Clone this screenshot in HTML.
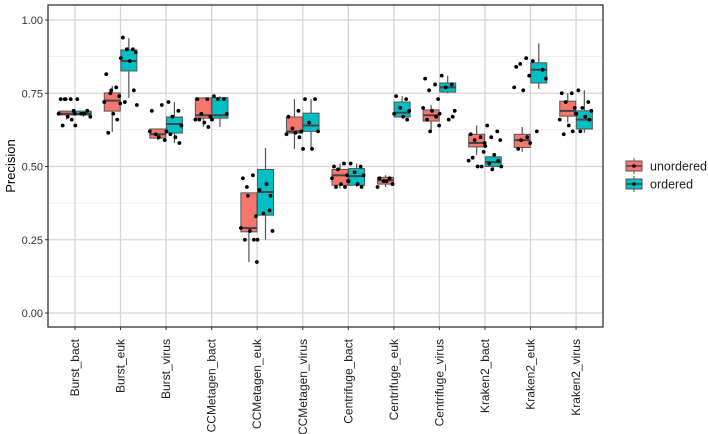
<!DOCTYPE html>
<html><head><meta charset="utf-8"><style>
html,body{margin:0;padding:0;background:#fff;}
svg{display:block;font-family:"Liberation Sans",Arial,sans-serif;}
</style></head><body>
<svg id="chart" width="708" height="434" viewBox="0 0 708 434"></svg>
<script>
const categories=["Burst_bact","Burst_euk","Burst_virus","CCMetagen_bact","CCMetagen_euk","CCMetagen_virus","Centrifuge_bact","Centrifuge_euk","Centrifuge_virus","Kraken2_bact","Kraken2_euk","Kraken2_virus"];
const seriesNames=["unordered","ordered"];
const seriesColors=["#F8766D","#00BFC4"];
// [whiskerLow, q1, median, q3, whiskerHigh]
const unorderedStats=[[0.66,0.676,0.68,0.689,0.69],[0.618,0.689,0.725,0.751,0.775],[0.59,0.597,0.61,0.628,0.63],[0.635,0.665,0.675,0.734,0.735],[0.174,0.277,0.29,0.41,0.41],[0.56,0.614,0.62,0.669,0.73],[0.425,0.436,0.47,0.49,0.51],[0.43,0.44,0.453,0.463,0.47],[0.62,0.655,0.675,0.693,0.71],[0.54,0.567,0.58,0.61,0.64],[0.55,0.565,0.59,0.61,0.635],[0.65,0.672,0.69,0.723,0.75]];
const orderedStats=[[0.67,0.676,0.68,0.689,0.69],[0.734,0.826,0.86,0.898,0.938],[0.58,0.614,0.645,0.669,0.72],[0.635,0.665,0.675,0.735,0.74],[0.25,0.334,0.413,0.49,0.563],[0.56,0.62,0.64,0.682,0.73],[0.43,0.436,0.467,0.493,0.51],[0.665,0.669,0.684,0.72,0.74],[0.75,0.754,0.77,0.785,0.81],[0.49,0.5,0.515,0.533,0.54],[0.765,0.785,0.83,0.854,0.92],[0.615,0.628,0.66,0.69,0.76]];
const unorderedPoints=[[0.73,0.73,0.73,0.69,0.68,0.67,0.66,0.64,0.68,0.73],[0.815,0.77,0.75,0.74,0.72,0.68,0.66,0.615,0.715,0.76],[0.69,0.71,0.61,0.59,0.62,0.6],[0.73,0.73,0.68,0.67,0.66,0.65,0.635,0.66],[0.46,0.47,0.43,0.33,0.29,0.28,0.25,0.25,0.174,0.4],[0.67,0.69,0.63,0.62,0.61,0.615,0.6],[0.5,0.51,0.49,0.47,0.46,0.44,0.43,0.43,0.45],[0.46,0.46,0.45,0.44,0.43,0.45],[0.8,0.78,0.76,0.73,0.7,0.69,0.67,0.66,0.64,0.62],[0.61,0.6,0.59,0.55,0.52,0.5,0.5,0.53,0.58],[0.84,0.87,0.85,0.81,0.77,0.76,0.6,0.56,0.58,0.59],[0.75,0.75,0.72,0.7,0.66,0.64,0.62,0.61,0.68]];
const orderedPoints=[[0.73,0.69,0.68,0.67,0.64,0.68],[0.94,0.9,0.9,0.89,0.87,0.86,0.76,0.72,0.71],[0.72,0.69,0.67,0.64,0.62,0.6,0.58,0.61],[0.74,0.73,0.73,0.68,0.66],[0.42,0.35,0.34,0.28,0.25,0.44,0.4],[0.73,0.73,0.65,0.62,0.56,0.56],[0.51,0.5,0.48,0.47,0.45,0.44,0.43],[0.74,0.73,0.7,0.69,0.68,0.67,0.66],[0.81,0.78,0.77,0.69,0.68,0.66,0.67],[0.64,0.62,0.6,0.59,0.57,0.54,0.52,0.51,0.5,0.49],[0.86,0.83,0.62,0.8],[0.76,0.72,0.7,0.69,0.68,0.67,0.66,0.62]];
const yTicks=[0,0.25,0.5,0.75,1];
const yTickLabels=["0.00","0.25","0.50","0.75","1.00"];

const NS="http://www.w3.org/2000/svg";
const svg=document.getElementById('chart');
const P={l:48,r:603,t:5,b:327};
const x0=75,xStep=45.55,dodge=8.3,boxW=16;
function xScale(i){return x0+i*xStep;}
function yScale(v){return 313-v*293;}
function mk(tag,attrs,parent){const e=document.createElementNS(NS,tag);for(const k in attrs)e.setAttribute(k,attrs[k]);(parent||svg).appendChild(e);return e;}

// panel
const panel=mk('rect',{x:P.l,y:P.t,width:P.r-P.l,height:P.b-P.t,fill:'#fff'});


const grid=mk('g',{});


for(let i=0;i<yTicks.length-1;i++){const v=(yTicks[i]+yTicks[i+1])/2;mk('line',{x1:P.l,x2:P.r,y1:yScale(v),y2:yScale(v),stroke:'#ebebeb','stroke-width':0.8},grid);}
yTicks.forEach(v=>mk('line',{x1:P.l,x2:P.r,y1:yScale(v),y2:yScale(v),stroke:'#d6d6d6','stroke-width':1.3},grid));
categories.forEach((c,i)=>mk('line',{x1:xScale(i),x2:xScale(i),y1:P.t,y2:P.b,stroke:'#d6d6d6','stroke-width':1.3},grid));

// boxes
const allStats=[unorderedStats,orderedStats];
const allPts=[unorderedPoints,orderedPoints];
const jitter=[-6,4,-2,7,-8,1,5,-4,8,-1];
categories.forEach((c,i)=>{
  for(let s=0;s<2;s++){
    const st=allStats[s][i];
    const cx=xScale(i)+(s===0?-dodge:dodge);
    const g=mk('g',{});
    
    
    mk('line',{x1:cx,x2:cx,y1:yScale(st[0]),y2:yScale(st[4]),stroke:'#555','stroke-width':1.2},g);
    mk('rect',{x:cx-boxW/2,y:yScale(st[3]),width:boxW,height:Math.max(1,yScale(st[1])-yScale(st[3])),fill:seriesColors[s],stroke:'#555','stroke-width':1},g);
    mk('line',{x1:cx-boxW/2,x2:cx+boxW/2,y1:yScale(st[2]),y2:yScale(st[2]),stroke:'#444','stroke-width':2},g);
  }
});
categories.forEach((c,i)=>{
  for(let s=0;s<2;s++){
    const cx=xScale(i)+(s===0?-dodge:dodge);
    allPts[s][i].forEach((v,k)=>{
      const p=mk('circle',{cx:cx+jitter[k%jitter.length],cy:yScale(v),r:1.9,fill:'#000'});
      
      
    });
  }
});
const border=mk('rect',{x:P.l,y:P.t,width:P.r-P.l,height:P.b-P.t,fill:'none',stroke:'#333','stroke-width':1.3});



// y axis
yTicks.forEach((v,i)=>{
  mk('line',{x1:P.l-3,x2:P.l,y1:yScale(v),y2:yScale(v),stroke:'#333'});
  const t=mk('text',{x:P.l-5,y:yScale(v)+4,'text-anchor':'end','font-size':11,fill:'#333'});
  t.textContent=yTickLabels[i];
  
  
});
const yt=mk('text',{transform:'translate(15,166) rotate(-90)','text-anchor':'middle','font-size':13,fill:'#000'});
yt.textContent='Precision';



// x axis
categories.forEach((c,i)=>{
  mk('line',{x1:xScale(i),x2:xScale(i),y1:P.b,y2:P.b+3,stroke:'#333'});
  const t=mk('text',{transform:`translate(${xScale(i)+4},339) rotate(-90)`,'text-anchor':'end','font-size':12,fill:'#222'});
  t.textContent=c;
  
  
});

// legend
const lg=mk('g',{});


seriesNames.forEach((n,s)=>{
  const cy=166+s*18;
  const e=mk('g',{},lg);
  
  
  mk('line',{x1:634,x2:634,y1:cy-8,y2:cy+8,stroke:'#555'},e);
  mk('rect',{x:626,y:cy-5,width:16,height:10,fill:seriesColors[s],stroke:'#555'},e);
  mk('line',{x1:626,x2:642,y1:cy,y2:cy,stroke:'#444','stroke-width':1.5},e);
  mk('circle',{cx:634,cy:cy,r:1.8,fill:'#000'},e);
  const t=mk('text',{x:650,y:cy+4.5,'font-size':12.5,fill:'#222'},e);
  t.textContent=n;
});
</script>
</body></html>
